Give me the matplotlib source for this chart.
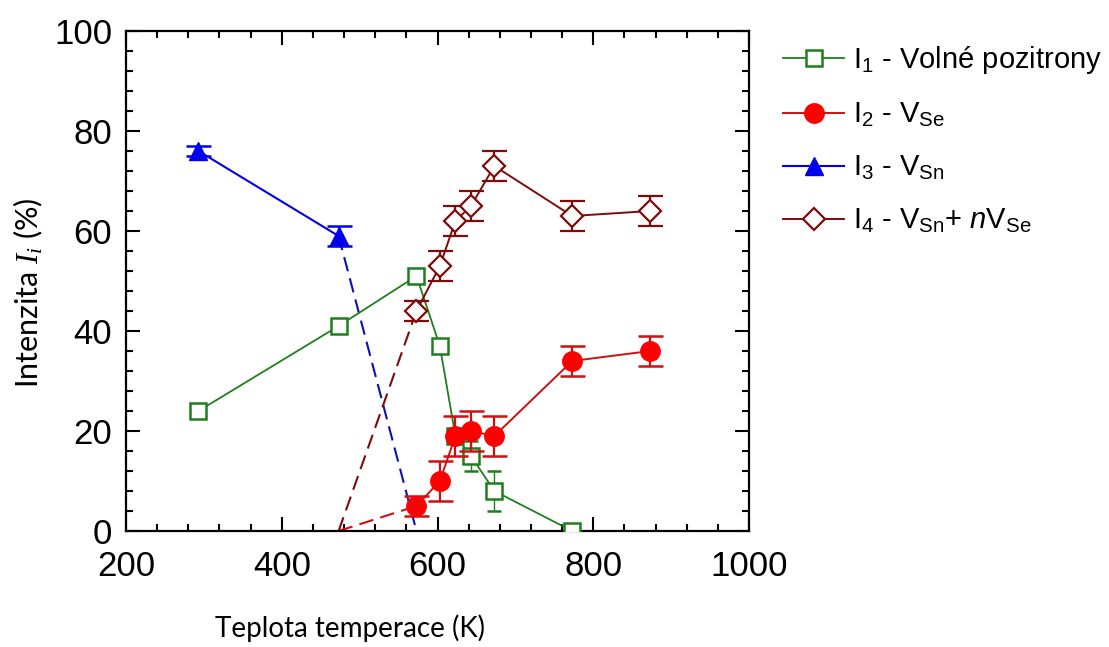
import matplotlib
matplotlib.use("Agg")
import matplotlib.pyplot as plt
from matplotlib.ticker import MultipleLocator
from matplotlib.lines import Line2D

plt.rcParams['mathtext.fontset'] = 'custom'
plt.rcParams['mathtext.rm'] = 'Liberation Sans'
plt.rcParams['mathtext.it'] = 'Liberation Serif:italic'
plt.rcParams['mathtext.sf'] = 'Liberation Sans:italic'

# ---- data ----
T1 = [293, 473, 573, 603, 623, 643, 673, 773]
I1 = [24, 41, 51, 37, 19, 15, 8, 0]
I1_err = [1, 1, 1, 1, 1, 3, 4, 0.5]

T2 = [573, 603, 623, 643, 673, 773, 873]
I2 = [5, 10, 19, 20, 19, 34, 36]
I2_err = [2, 4, 4, 4, 4, 3, 3]

T3 = [293, 473]
I3 = [76, 59]
I3_err = [1, 2]

T4 = [573, 603, 623, 643, 673, 773, 873]
I4 = [44, 53, 62, 65, 73, 63, 64]
I4_err = [2, 3, 3, 3, 3, 3, 3]

# dashed extrapolations
T2_dash = [473, 573]
I2_dash = [0, 5]
T3_dash = [473, 573]
I3_dash = [59, 0]
T4_dash = [473, 573]
I4_dash = [0, 44]

labels = [r'I$_1$ - Volné pozitrony',
          r'I$_2$ - V$_{\rm Se}$',
          r'I$_3$ - V$_{\rm Sn}$',
          r'I$_4$ - V$_{\rm Sn}$+ $\mathsf{n}$V$_{\rm Se}$']

green = '#1f7f1f'
red = '#ff0000'
redline = '#d01010'
blue = '#0000ee'
brown = '#7f0a0a'

fig = plt.figure(figsize=(11.09, 6.47), dpi=100)
ax = fig.add_axes([126/1109, 1 - 531/647, (749-126)/1109, (531-31)/647])

dash = (7, 3.5)
ax.plot(T2_dash, I2_dash, color=redline, lw=1.5, dashes=dash, zorder=2)
ax.plot(T3_dash, I3_dash, color='#1010b0', lw=1.5, dashes=dash, zorder=2)
ax.plot(T4_dash, I4_dash, color=brown, lw=1.5, dashes=dash, zorder=2)

st1 = dict(color=green, lw=1.3, marker='s', ms=11, mfc='white', mec=green, mew=1.8)
st2 = dict(color=redline, lw=1.4, marker='o', ms=14, mfc=red, mec=red)
st3 = dict(color=blue, lw=1.5, marker='^', ms=13, mfc=blue, mec=blue)
st4 = dict(color=brown, lw=1.4, marker='D', ms=11, mfc='white', mec=brown, mew=1.6)

ax.errorbar(T1, I1, yerr=I1_err, capsize=5, elinewidth=1.0, capthick=1.0,
            zorder=3, **st1)
ax.errorbar(T4, I4, yerr=I4_err, capsize=9, elinewidth=1.6, capthick=1.8,
            zorder=4, **st4)
ax.errorbar(T2, I2, yerr=I2_err, ecolor=redline, capsize=9, elinewidth=1.6,
            capthick=1.8, zorder=5, **st2)
ax.errorbar(T3, I3, yerr=I3_err, capsize=9, elinewidth=1.6, capthick=1.8,
            zorder=5, **st3)

ax.set_xlim(200, 1000)
ax.set_ylim(0, 100)
ax.xaxis.set_major_locator(MultipleLocator(200))
ax.xaxis.set_minor_locator(MultipleLocator(40))
ax.yaxis.set_major_locator(MultipleLocator(20))
ax.yaxis.set_minor_locator(MultipleLocator(4))
ax.tick_params(which='both', direction='in', top=True, right=True, width=1.5,
               labelsize=25)
ax.tick_params(axis='x', which='major', pad=14)
ax.tick_params(axis='y', which='major', pad=10)
ax.tick_params(which='major', length=10)
ax.tick_params(which='minor', length=5)
for lab in ax.get_xticklabels() + ax.get_yticklabels():
    lab.set_fontfamily('Liberation Sans')
for s in ax.spines.values():
    s.set_linewidth(1.6)

ax.set_xlabel('Teplota temperace (K)', fontsize=20, family='Lato')
ax.xaxis.set_label_coords((350 - 126) / 623, -(628 - 531) / 500)
ax.xaxis.label.set_va('center')
ax.set_ylabel(r'Intenzita $I_i$ (%)', fontsize=22, family='Lato')
ax.yaxis.set_label_coords(-(126 - 28) / 623, (531 - 293) / 500)
ax.yaxis.label.set_va('center')

handles = [Line2D([], [], **st1), Line2D([], [], **st2),
           Line2D([], [], **st3), Line2D([], [], **st4)]
leg = fig.legend(handles, labels, loc='upper left',
                 bbox_to_anchor=(783/1109, 1 - 44/647), frameon=False,
                 prop={'family': 'Liberation Sans', 'size': 21},
                 handlelength=2.1, handletextpad=0.3, labelspacing=0.85,
                 borderpad=0, borderaxespad=0)

fig.savefig('out.png', dpi=100, facecolor='white')
